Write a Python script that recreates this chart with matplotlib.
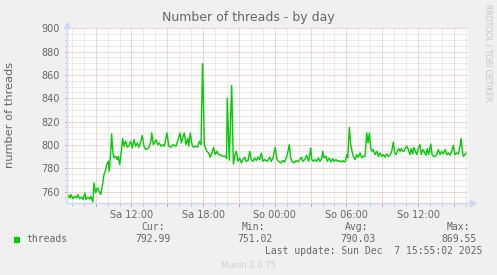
import matplotlib
matplotlib.use("Agg")
import matplotlib.pyplot as plt
import numpy as np

# ---- data (hours since Sat 00:00, number of threads) ----
hours = [6.60, 6.74, 6.87, 6.93, 7.10, 7.26, 7.40, 7.51, 7.65, 7.82, 7.95, 8.09, 8.18, 8.34, 8.51, 8.60, 8.76,
         8.86, 9.00, 9.14, 9.28, 9.42, 9.55, 9.70, 9.84, 9.92, 10.06, 10.14, 10.26, 10.34, 10.43, 10.53, 10.68,
         10.81, 10.89, 11.01, 11.15, 11.26, 11.37, 11.51, 11.65, 11.79, 11.93, 12.07, 12.21, 12.35, 12.49, 12.63,
         12.82, 12.90, 13.05, 13.19, 13.44, 13.63, 13.69, 13.83, 14.05, 14.19, 14.33, 14.47, 14.61, 14.75, 14.89,
         14.97, 15.12, 15.31, 15.50, 15.73, 15.95, 16.06, 16.17, 16.29, 16.42, 16.56, 16.71, 16.79, 16.92, 17.07,
         17.18, 17.40, 17.54, 17.68, 17.82, 17.95, 18.01, 18.10, 18.30, 18.46, 18.60, 18.74, 18.88, 19.02, 19.16,
         19.30, 19.50, 19.64, 19.86, 19.96, 20.02, 20.19, 20.39, 20.53, 20.64, 20.78, 20.92, 21.06, 21.20, 21.34,
         21.48, 21.61, 21.76, 21.90, 22.03, 22.18, 22.32, 22.45, 22.59, 22.74, 22.87, 23.01, 23.16, 23.37, 23.57,
         23.71, 23.85, 24.04, 24.19, 24.33, 24.50, 24.69, 24.83, 25.05, 25.22, 25.33, 25.44, 25.61, 25.80, 25.94,
         26.09, 26.22, 26.36, 26.51, 26.67, 26.84, 27.01, 27.09, 27.23, 27.37, 27.51, 27.65, 27.79, 27.93, 28.01,
         28.12, 28.29, 28.40, 28.57, 28.68, 28.85, 28.96, 29.13, 29.24, 29.40, 29.52, 29.69, 29.80, 29.91, 30.02,
         30.11, 30.24, 30.36, 30.47, 30.58, 30.72, 30.86, 30.99, 31.14, 31.28, 31.41, 31.56, 31.70, 31.81, 31.92,
         32.03, 32.14, 32.25, 32.39, 32.54, 32.67, 32.81, 32.95, 33.09, 33.23, 33.37, 33.51, 33.65, 33.79, 33.93,
         34.04, 34.15, 34.26, 34.38, 34.49, 34.60, 34.72, 34.82, 34.93, 35.05, 35.18, 35.32, 35.43, 35.55, 35.66,
         35.77, 35.89, 36.02, 36.16, 36.27, 36.39, 36.50, 36.66, 36.77, 36.89, 37.06, 37.17, 37.28, 37.42, 37.56,
         37.69, 37.84, 37.98, 38.11, 38.26, 38.40, 38.53, 38.68, 38.82, 38.95, 39.09, 39.24, 39.37, 39.51, 39.60,
         39.68, 39.79, 39.91, 40.01]
threads = [753.2, 756.9, 754.6, 757.5, 754.0, 756.0, 754.6, 757.5, 754.0, 755.2, 753.2, 758.9, 753.2, 755.2, 753.7, 756.0, 751.02,
           767.5, 758.9, 763.2, 760.3, 757.5, 764.6, 774.6, 778.9, 783.2, 786.0, 777.5, 794.6, 809.4, 794.6, 788.9, 790.3,
           787.5, 790.3, 783.2, 794.6, 805.5, 798.9, 803.2, 798.0, 799.4, 803.2, 797.4, 804.6, 798.9, 801.7, 798.0,
           804.6, 808.3, 798.9, 796.0, 797.4, 803.2, 810.3, 800.3, 804.6, 800.3, 801.7, 798.9, 800.3, 798.9, 806.0,
           810.3, 798.9, 798.0, 800.3, 798.9, 806.0, 810.3, 801.7, 806.0, 810.3, 800.3, 805.5, 798.9, 810.3, 800.3,
           798.0, 798.9, 798.0, 803.2, 800.3, 869.55, 845.0, 800.3, 794.6, 793.2, 789.5, 793.2, 798.0, 791.7, 794.6,
           791.7, 791.2, 790.3, 790.3, 788.5, 840.0, 787.0, 851.0, 783.6, 790.3, 794.6, 786.0, 788.9, 784.6, 787.5,
           789.5, 786.0, 786.6, 794.6, 787.5, 786.0, 788.9, 786.6, 789.5, 787.5, 793.2, 786.0, 787.5, 786.0, 789.5,
           786.0, 788.9, 798.0, 787.5, 786.0, 784.6, 786.6, 785.5, 791.7, 800.3, 788.9, 786.0, 784.6, 786.6, 785.5,
           787.5, 789.5, 786.0, 787.5, 791.2, 786.0, 797.4, 787.5, 786.0, 787.5, 786.0, 788.9, 786.0, 788.3, 794.6,
           788.9, 790.3, 786.0, 788.9, 785.5, 788.3, 786.0, 787.5, 786.0, 786.6, 785.5, 786.6, 785.5, 786.0, 791.7,
           788.9, 815.1, 800.3, 794.6, 790.3, 787.5, 791.7, 789.5, 793.2, 788.9, 790.3, 790.3, 810.3, 801.7, 810.3,
           797.4, 794.6, 796.0, 791.7, 794.6, 790.3, 793.2, 790.3, 791.7, 789.5, 792.3, 790.3, 791.2, 794.6, 802.6,
           793.2, 791.7, 794.6, 796.9, 794.6, 796.9, 794.6, 794.6, 797.4, 798.9, 796.0, 791.7, 796.9, 792.3, 798.0,
           794.6, 791.7, 796.9, 800.3, 791.7, 796.0, 794.6, 791.2, 796.9, 791.7, 800.9, 791.7, 790.3, 790.3, 791.7,
           796.0, 791.7, 794.6, 792.3, 796.0, 791.7, 793.2, 791.2, 794.6, 799.7, 791.7, 793.2, 792.3, 798.9, 805.5,
           797.4, 790.3, 791.7, 792.99]

xtick_pos = [12, 18, 24, 30, 36]
xtick_labels = ["Sa 12:00", "Sa 18:00", "So 00:00", "So 06:00", "So 12:00"]
ytick_pos = [760, 780, 800, 820, 840, 860, 880, 900]

legend_name = "threads"
stat_headers = ["Cur:", "Min:", "Avg:", "Max:"]
stat_values = ["792.99", "751.02", "790.03", "869.55"]
last_update = "Last update: Sun Dec  7 15:55:02 2025"
title = "Number of threads - by day"
ylabel = "number of threads"

# ---- figure ----
W, H = 497, 275
fig = plt.figure(figsize=(W / 100, H / 100), dpi=100, facecolor="#F0F0F0")

def fx(px):
    return px / W

def fy(py):
    return 1 - py / H

L, R, T, B = 67, 468, 28.3, 203.3
ax = fig.add_axes([fx(L), fy(B), fx(R - L), (B - T) / H])
ax.set_facecolor("white")
x0, x1 = 6.60, 40.18
ax.set_xlim(x0, x1)
ax.set_ylim(750, 900)

font_col = "#666666"
minor_col = "#d8d8d8"
major_col = "#eaaaaa"
axis_col = "#CFD6F8"
dot = (0, (1, 1))

# grid
minor_h = [h for h in range(7, 41) if h % 3 != 0]
major_h = list(range(9, 41, 3))
minor_v = [v for v in range(755, 901, 5) if v % 20 != 0]
for h in minor_h:
    ax.axvline(h, color=minor_col, lw=0.72, ls=dot, zorder=1)
for v in minor_v:
    ax.axhline(v, color=minor_col, lw=0.72, ls=dot, zorder=1)
for h in major_h:
    ax.axvline(h, color=major_col, lw=0.72, ls=dot, zorder=2)
for v in ytick_pos:
    ax.axhline(v, color=major_col, lw=0.72, ls=dot, zorder=2)

ax.plot(hours, threads, color="#00CC00", lw=1.0, zorder=5)

for s in ax.spines.values():
    s.set_visible(False)

ax.set_xticks(xtick_pos)
ax.set_xticklabels(xtick_labels)
ax.set_yticks(ytick_pos)
ax.set_yticklabels([str(v) for v in ytick_pos])
ax.tick_params(axis="both", length=0, labelsize=7, labelcolor=font_col)
ax.tick_params(axis="x", pad=5)
ax.tick_params(axis="y", pad=5)

# small tick marks outside the axes
tick_len_x = 2.5 / (B - T) * 150
for h in minor_h:
    ax.plot([h, h], [750, 750 - tick_len_x], color="#c8c8c8", lw=0.72, clip_on=False, zorder=6)
for h in major_h:
    ax.plot([h, h], [750, 750 - tick_len_x], color="#e09090", lw=0.72, clip_on=False, zorder=6)
tick_len_y = 2.5 / (R - L) * (x1 - x0)
for v in minor_v:
    ax.plot([x0, x0 - tick_len_y], [v, v], color="#c8c8c8", lw=0.72, clip_on=False, zorder=6)
for v in ytick_pos:
    ax.plot([x0, x0 - tick_len_y], [v, v], color="#e09090", lw=0.72, clip_on=False, zorder=6)

# axes with arrows
ax.plot([0, 0], [0, 1.0], transform=ax.transAxes, color=axis_col, lw=1, clip_on=False, zorder=7)
ax.plot([0, 1.0], [0, 0], transform=ax.transAxes, color=axis_col, lw=1, clip_on=False, zorder=7)
ax.plot([0], [1.02], transform=ax.transAxes, marker="^", ms=4.5, color=axis_col, clip_on=False, zorder=7)
ax.plot([1.012], [0], transform=ax.transAxes, marker=">", ms=4.5, color=axis_col, clip_on=False, zorder=7)

# texts
fig.text(fx(248), fy(18), title, ha="center", va="center", fontsize=9, color=font_col)
fig.text(fx(10), fy(115), ylabel, ha="center", va="center", rotation=90, fontsize=8.2, color=font_col)
fig.text(fx(488), fy(53), "RRDTOOL / TOBI OETIKER", ha="center", va="center", rotation=270,
         fontsize=5.5, color="#c4c4c4")

mono = "DejaVu Sans Mono"
fig.patches.append(plt.Rectangle((fx(14), fy(242.5)), fx(6), 6 / H, transform=fig.transFigure,
                                 facecolor="#00CC00", edgecolor="none"))
fig.text(fx(26.5), fy(239.5), legend_name, ha="left", va="center", fontsize=7, family=mono, color=font_col)
hdr_right = [164.5, 265.5, 368.5, 470.5]
val_right = [170.5, 272.5, 375.5, 477]
for hx, vx, hd, vv in zip(hdr_right, val_right, stat_headers, stat_values):
    fig.text(fx(hx), fy(227.5), hd, ha="right", va="center", fontsize=7, family=mono, color=font_col)
    fig.text(fx(vx), fy(239.5), vv, ha="right", va="center", fontsize=7, family=mono, color=font_col)
fig.text(fx(482.5), fy(251.5), last_update, ha="right", va="center", fontsize=7, family=mono, color=font_col)
fig.text(fx(248), fy(265), "Munin 2.0.75", ha="center", va="center", fontsize=6, color="#cfcfcf")

fig.savefig("out.png", dpi=100, facecolor=fig.get_facecolor())
